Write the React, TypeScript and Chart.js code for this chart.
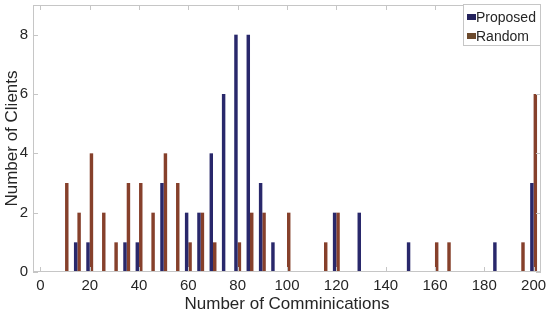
import React, { useEffect, useRef } from "react";
import { Chart, registerables } from "chart.js";

Chart.register(...registerables);

const proposedX = [15, 20, 35, 40, 50, 60, 65, 70, 75, 80, 85, 90, 95, 120, 130, 150, 185, 200];
const proposedY = [1, 1, 1, 1, 3, 2, 2, 4, 6, 8, 8, 3, 1, 2, 2, 1, 1, 3];
const randomX = [10, 15, 20, 25, 30, 35, 40, 45, 50, 55, 60, 65, 70, 80, 85, 90, 100, 115, 120, 160, 165, 195, 200];
const randomY = [3, 2, 4, 2, 1, 3, 3, 2, 4, 3, 1, 2, 1, 1, 2, 2, 2, 1, 2, 1, 1, 1, 6];
const xTicks = [0, 20, 40, 60, 80, 100, 120, 140, 160, 180, 200];
const yTicks = [0, 2, 4, 6, 8];
const seriesLabels = ["Proposed", "Random"];
const seriesFill = ["#29286b", "#86402b"];
const seriesEdge = ["#23225c", "#6c4a2d"];
const xTitle = "Number of Comminications";
const yTitle = "Number of Clients";

const FONT = "'Liberation Sans', Arial, Helvetica, sans-serif";
const TEXT = "#262626";

const framePlugin = {
  id: "frame",
  afterDatasetsDraw(chart: any) {
    const { ctx, chartArea: a, scales } = chart;
    ctx.save();
    ctx.strokeStyle = "#c6c6c6";
    ctx.lineWidth = 1;
    ctx.strokeRect(a.left + 0.5, a.top + 0.5, a.right - a.left - 1, a.bottom - a.top - 1);
    const len = 5;
    ctx.beginPath();
    scales.x.ticks.forEach((t: any) => {
      const px = Math.round(scales.x.getPixelForValue(t.value)) + 0.5;
      ctx.moveTo(px, a.bottom);
      ctx.lineTo(px, a.bottom - len);
      ctx.moveTo(px, a.top);
      ctx.lineTo(px, a.top + len);
    });
    scales.y.ticks.forEach((t: any) => {
      const py = Math.round(scales.y.getPixelForValue(t.value)) + 0.5;
      ctx.moveTo(a.left, py);
      ctx.lineTo(a.left + len, py);
      ctx.moveTo(a.right, py);
      ctx.lineTo(a.right - len, py);
    });
    ctx.stroke();
    ctx.restore();
  },
  afterDraw(chart: any) {
    const { ctx, chartArea: a } = chart;
    const ds = chart.data.datasets;
    ctx.save();
    const w = 77;
    const h = 41;
    const x0 = a.right - w - 1;
    const y0 = a.top - 1;
    ctx.fillStyle = "#ffffff";
    ctx.fillRect(x0, y0, w, h);
    ctx.strokeStyle = "#c6c6c6";
    ctx.lineWidth = 1;
    ctx.strokeRect(x0 + 0.5, y0 + 0.5, w, h);
    ctx.font = `14px ${FONT}`;
    ctx.textBaseline = "middle";
    ctx.fillStyle = TEXT;
    ds.forEach((d: any, i: number) => {
      const cy = y0 + 13 + i * 19;
      ctx.fillStyle = d.borderColor;
      ctx.fillRect(x0 + 4, cy - 3, 9, 6);
      ctx.fillStyle = TEXT;
      ctx.fillText(d.label, x0 + 13, cy + 1);
    });
    ctx.restore();
  },
};

const zeroPad = (s: any) => {
  s.paddingTop = 0;
  s.paddingBottom = 0;
  s.paddingLeft = 0;
  s.paddingRight = 0;
};

export default function App() {
  const ref = useRef<HTMLCanvasElement>(null);

  useEffect(() => {
    if (!ref.current) return;
    const chart = new Chart(ref.current, {
      type: "bar",
      data: {
        datasets: [
          {
            label: seriesLabels[0],
            data: proposedX.map((x, i) => ({ x, y: proposedY[i] })),
            backgroundColor: seriesFill[0],
            borderColor: seriesEdge[0],
            borderWidth: 0,
          },
          {
            label: seriesLabels[1],
            data: randomX.map((x, i) => ({ x, y: randomY[i] })),
            backgroundColor: seriesFill[1],
            borderColor: seriesEdge[1],
            borderWidth: 0,
          },
        ],
      },
      options: {
        responsive: false,
        animation: false,
        categoryPercentage: 0.56,
        barPercentage: 1,
        layout: { padding: { top: 5, right: 9, left: 0, bottom: 0 } },
        plugins: { legend: { display: false }, tooltip: { enabled: false } },
        scales: {
          x: {
            type: "linear",
            offset: false,
            min: -3,
            max: 203,
            grid: { display: false, drawTicks: false },
            border: { display: false },
            afterBuildTicks: (s: any) => {
              s.ticks = xTicks.map((v) => ({ value: v }));
            },
            afterFit: (s: any) => {
              s.height = 48;
              zeroPad(s);
            },
            ticks: { font: { family: FONT, size: 15 }, color: TEXT, padding: 5, maxRotation: 0 },
            title: {
              display: true,
              text: xTitle,
              font: { family: FONT, size: 17 },
              color: TEXT,
              padding: { top: 0, bottom: 5 },
            },
          },
          y: {
            type: "linear",
            min: 0,
            max: 9,
            grid: { display: false, drawTicks: false },
            border: { display: false },
            afterBuildTicks: (s: any) => {
              s.ticks = yTicks.map((v) => ({ value: v }));
            },
            afterFit: (s: any) => {
              s.width = 33;
              zeroPad(s);
            },
            ticks: { font: { family: FONT, size: 15 }, color: TEXT, padding: 5 },
            title: {
              display: true,
              text: yTitle,
              font: { family: FONT, size: 17 },
              color: TEXT,
              padding: { top: 2, bottom: 0 },
            },
          },
        },
      },
      plugins: [framePlugin],
    } as any);
    return () => chart.destroy();
  }, []);

  return (
    <div style={{ position: "absolute", left: 0, top: 0, width: 550, height: 320, background: "#fff" }}>
      <canvas ref={ref} width={550} height={320} />
    </div>
  );
}
